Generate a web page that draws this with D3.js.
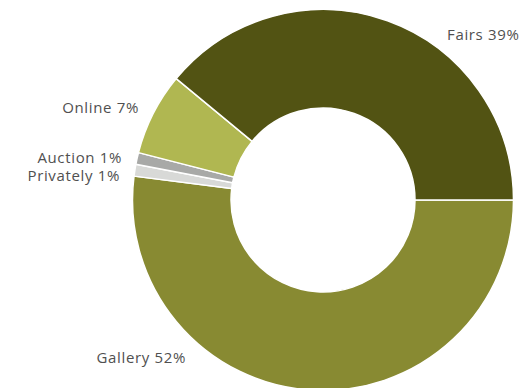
<!DOCTYPE html>
<html>
<head>
<meta charset="utf-8">
<script src="https://cdn.jsdelivr.net/npm/d3@7"></script>
<style>
  html, body { margin: 0; padding: 0; background: #fff; }
  svg { display: block; }
  text { font-family: "Open Sans", "Lato", sans-serif; font-size: 15px; letter-spacing: 0.65px; fill: #505050; }
</style>
</head>
<body>
<svg id="chart" width="525" height="388"></svg>
<script>
// Sales channel shares (percent), drawn clockwise starting at 3 o'clock
const channels = ["Gallery", "Privately", "Auction", "Online", "Fairs"];
const shares   = [52, 1, 1, 7, 39];
const colors   = ["#888a32", "#d8d9d7", "#a8a9a7", "#b0b751", "#525313"];

// label anchor points relative to the donut centre, with alignment
const labelPos = [
  { dx: -137, dy: 158, anchor: "end" },
  { dx: -203, dy: -24, anchor: "end" },
  { dx: -201, dy: -42, anchor: "end" },
  { dx: -184, dy: -92, anchor: "end" },
  { dx: 124,  dy: -165, anchor: "start" }
];

const svg = d3.select("#chart");
const cx = 323, cy = 200, outerR = 190.5, innerR = 92;

const pie = d3.pie()
  .sort(null)
  .value(d => d.value)
  .startAngle(Math.PI / 2)
  .endAngle(Math.PI / 2 + 2 * Math.PI);

const data = channels.map((c, i) => ({ name: c, value: shares[i], color: colors[i], label: labelPos[i] }));
const arcs = pie(data);
const arc = d3.arc().innerRadius(innerR).outerRadius(outerR);

const g = svg.append("g").attr("transform", `translate(${cx},${cy})`);

g.selectAll("path.slice")
  .data(arcs)
  .join("path")
  .attr("class", "slice")
  .attr("d", arc)
  .attr("fill", d => d.data.color)
  .attr("stroke", "#fff")
  .attr("stroke-width", 1.5)
  .attr("stroke-linejoin", "round");

g.selectAll("text.label")
  .data(arcs)
  .join("text")
  .attr("class", "label")
  .attr("x", d => d.data.label.dx)
  .attr("y", d => d.data.label.dy)
  .attr("dy", "0.35em")
  .attr("text-anchor", d => d.data.label.anchor)
  .text(d => `${d.data.name} ${d.data.value}%`);
</script>
</body>
</html>
